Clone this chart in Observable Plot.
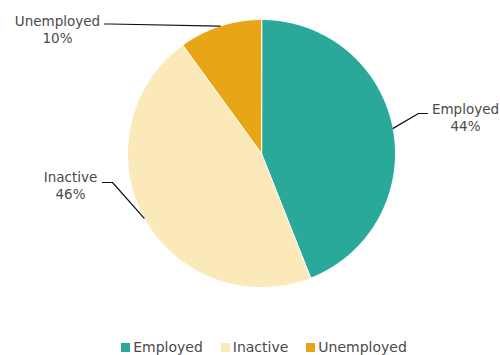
<!DOCTYPE html>
<html>
<head>
<meta charset="utf-8">
<script src="https://cdn.jsdelivr.net/npm/d3@7"></script>
<script src="https://cdn.jsdelivr.net/npm/@observablehq/plot@0.6"></script>
<style>
  body { margin: 0; background: #fff; font-family: "DejaVu Sans", sans-serif; }
  #chart svg { display: block; }
  .legend { display: flex; justify-content: center; gap: 18px; font-size: 14px; color: #4a4a4a; height: 20px; line-height: 20px; margin-left: 28px; margin-top: 2px; }
  .legend span.sw { display: inline-block; width: 9px; height: 9px; margin-right: 3px; vertical-align: 0px; }
</style>
</head>
<body>
<div id="chart"></div>
<script>
// ---- data ----
const categories = ["Employed", "Inactive", "Unemployed"];
const shares = [44, 46, 10];
const colors = ["#2aa89a", "#fce9b9", "#e8a617"];

// ---- layout (pixels) ----
const W = 500, H = 335;
const cx = 261, cy = 153, R = 134;
// label block centre / connector elbow + end, per category
const labelLayout = {
  Employed:   { tx: 465, ty: 116.5, elbow: [418, 113], end: [427, 113] },
  Inactive:   { tx: 70,  ty: 184.5, elbow: [112, 182], end: [102, 182] },
  Unemployed: { tx: 57,  ty: 28.5,  elbow: [110, 23.5], end: [104, 23.5] }
};

const rows = categories.map((c, i) => ({ category: c, value: shares[i] }));
const arcs = d3.pie().sort(null).value(d => d.value)(rows);

// polygon points for each slice (angles clockwise from top)
const slicePts = [];
arcs.forEach(a => {
  const n = Math.max(2, Math.ceil((a.endAngle - a.startAngle) / 0.01));
  slicePts.push({ key: a.data.category, x: cx, y: cy });
  for (let k = 0; k <= n; k++) {
    const t = a.startAngle + (a.endAngle - a.startAngle) * k / n;
    slicePts.push({ key: a.data.category, x: cx + R * Math.sin(t), y: cy - R * Math.cos(t) });
  }
});

// connector lines
const connPts = [];
const labels = [];
arcs.forEach(a => {
  const c = a.data.category;
  const m = (a.startAngle + a.endAngle) / 2;
  const L = labelLayout[c];
  connPts.push({ key: c, x: cx + R * Math.sin(m), y: cy - R * Math.cos(m) });
  connPts.push({ key: c, x: L.elbow[0], y: L.elbow[1] });
  connPts.push({ key: c, x: L.end[0], y: L.end[1] });
  labels.push({ x: L.tx, y: L.ty, text: `${c}\n${a.data.value}%` });
});

const plot = Plot.plot({
  width: W, height: H,
  margin: 0,
  x: { domain: [0, W], range: [0, W], axis: null },
  y: { domain: [0, H], range: [0, H], axis: null },
  color: { domain: categories, range: colors },
  style: { fontFamily: "DejaVu Sans, sans-serif", background: "white" },
  marks: [
    Plot.line(slicePts, { x: "x", y: "y", z: "key", fill: "key", stroke: "white", strokeWidth: 1, curve: "linear-closed" }),
    Plot.line(connPts, { x: "x", y: "y", z: "key", stroke: "#111", strokeWidth: 1.2 }),
    Plot.text(labels, { x: "x", y: "y", text: "text", fill: "#4a4a4a", fontSize: 13.5, lineHeight: 1.25, textAnchor: "middle", lineAnchor: "middle" })
  ]
});
document.getElementById("chart").appendChild(plot);

const leg = document.createElement("div");
leg.className = "legend";
categories.forEach((c, i) => {
  const item = document.createElement("div");
  item.innerHTML = `<span class="sw" style="background:${colors[i]}"></span>${c}`;
  leg.appendChild(item);
});
document.body.appendChild(leg);
</script>
</body>
</html>
